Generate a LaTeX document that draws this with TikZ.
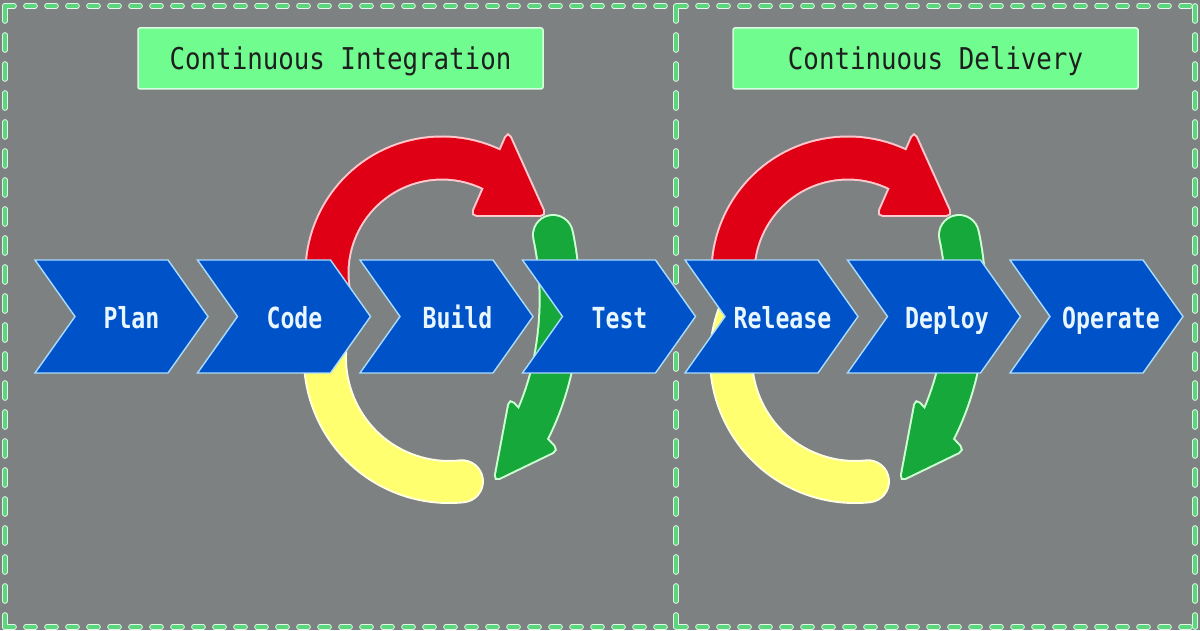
\documentclass[tikz,border=0pt]{standalone}
\usepackage{fontspec}
\newfontfamily\titlefont[FakeStretch=0.86]{DejaVu Sans Mono}
\newfontfamily\lblfont[FakeStretch=0.80]{DejaVu Sans Mono}
\definecolor{bggray}{RGB}{126,129,130}
\definecolor{dashgreen}{RGB}{92,214,124}
\definecolor{dashwhite}{RGB}{225,250,232}
\definecolor{titlegreen}{RGB}{112,252,142}
\definecolor{titleline}{RGB}{215,255,225}
\definecolor{chevblue}{RGB}{0,82,200}
\definecolor{chevline}{RGB}{170,220,255}
\definecolor{lbltext}{RGB}{232,246,255}
\definecolor{ringred}{RGB}{224,0,22}
\definecolor{redline}{RGB}{255,200,205}
\definecolor{ringgreen}{RGB}{22,168,58}
\definecolor{greenline}{RGB}{205,255,210}
\definecolor{ringyellow}{RGB}{255,255,112}
\definecolor{yellowline}{RGB}{255,255,225}
\newcommand\devring{%
  \coordinate (rc) at (442,357);
  \coordinate (yc) at (449,272);
  \coordinate (gs) at (553,395);
  \coordinate (ge) at (528,196);
  % outline layer
  \draw[line width=45pt, draw=redline] ([shift={(190:115)}]rc) arc[start angle=190,end angle=58,radius=115];
  \draw[draw=redline, fill=redline, line width=4pt, rounded corners=5pt] (508,497) -- (545,415) -- (472,415) -- cycle;
  \draw[line width=44pt, draw=yellowline, line cap=round] ([shift={(160:124)}]yc) arc[start angle=160,end angle=276,radius=124];
  \draw[line width=42pt, draw=greenline, line cap=round] (gs) .. controls (565,340) and (563,262) .. (ge);
  \draw[draw=greenline, fill=greenline, line width=4pt, rounded corners=5pt] (510,230) -- (557,180) -- (495,150) -- cycle;
  % fill layer
  \draw[line width=41pt, draw=ringred] ([shift={(190:115)}]rc) arc[start angle=190,end angle=58,radius=115];
  \fill[ringred, rounded corners=5pt] (508,497) -- (545,415) -- (472,415) -- cycle;
  \draw[line width=40pt, draw=ringyellow, line cap=round] ([shift={(160:124)}]yc) arc[start angle=160,end angle=276,radius=124];
  \draw[line width=38pt, draw=ringgreen, line cap=round] (gs) .. controls (565,340) and (563,262) .. (ge);
  \fill[ringgreen, rounded corners=5pt] (510,230) -- (557,180) -- (495,150) -- cycle;
}
\begin{document}
\begin{tikzpicture}[x=1pt,y=1pt,
  hline/.style={dash pattern=on 9pt off 12pt},
  vline/.style={dash pattern=on 15pt off 14pt},
  dashw/.style={draw=dashwhite, line width=5.6pt, line cap=round},
  dashg/.style={draw=dashgreen, line width=3.6pt, line cap=round},
  titlebox/.style={fill=titlegreen, draw=titleline, line width=1.5pt, rounded corners=2pt,
    minimum width=405pt, minimum height=61pt, inner sep=0pt, text height=30pt, text depth=7pt,
    text=black!88, font=\titlefont\fontsize{30}{36}\selectfont},
  chev/.style={fill=chevblue, draw=chevline, line width=1.4pt},
  lbl/.style={anchor=base, inner sep=0pt, text=lbltext, font=\lblfont\bfseries\fontsize{29}{34}\selectfont}]
\fill[bggray] (0,0) rectangle (1200,630);
\useasboundingbox (0,0) rectangle (1200,630);
% dashed panels
\coordinate (tl) at (5,624);
\coordinate (tr) at (1195,624);
\coordinate (bl) at (5,3);
\coordinate (br) at (1195,3);
\coordinate (dt) at (676,624);
\coordinate (db) at (676,3);
\draw[dashw,hline] (tl) -- (tr) (bl) -- (br);
\draw[dashw,vline] (tl) -- (bl) (tr) -- (br) (dt) -- (db);
\draw[dashg,hline] (tl) -- (tr) (bl) -- (br);
\draw[dashg,vline] (tl) -- (bl) (tr) -- (br) (dt) -- (db);
% titles
\node[titlebox] (ci) at (340.5,571.5) {Continuous Integration};
\node[titlebox] (cd) at (935.5,571.5) {Continuous Delivery};
% rings
\begin{scope}
\devring
\end{scope}
\begin{scope}[xshift=406pt]
\devring
\end{scope}
% chevrons
\foreach \x/\t/\n/\d in {35/Plan/plan/96.5, 197.5/Code/code/97, 360/Build/build/97.5, 522.5/Test/test/97, 685/Release/release/97.5, 847.5/Deploy/deploy/99.5, 1010/Operate/operate/101}{
  \draw[chev] (\x,370) -- ++(133,0) -- ++(40,-56.5) -- ++(-40,-56.5) -- ++(-133,0) -- ++(40,56.5) -- cycle;
  \node[lbl] (\n) at (\x+\d,301.7) {\t};
}
\end{tikzpicture}
\end{document}
